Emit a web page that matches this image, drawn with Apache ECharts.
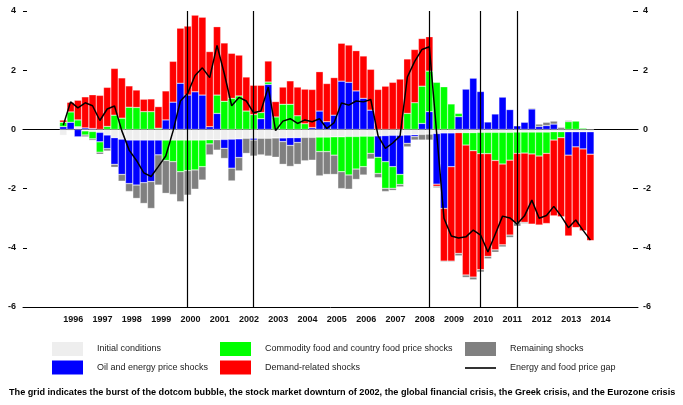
<!DOCTYPE html>
<html>
<head>
<meta charset="utf-8">
<script src="https://cdn.jsdelivr.net/npm/echarts@6.0.0/dist/echarts.min.js"></script>
<style>
  html, body { margin: 0; padding: 0; background: #fff; }
  #chart { width: 683px; height: 405px; }
</style>
</head>
<body>
<div id="chart"></div>
<script>
// quarterly decomposition, 1996Q1 .. 2014Q1
const firstYear = 1996
const lastYear = 2014

const initialConditions = [
  -0.2, -0.05, 0.09, -0.05, -0.07, -0.1, -0.19, -0.28,
  -0.33, -0.36, -0.36, -0.36, -0.36, -0.36, -0.36, -0.36,
  -0.36, -0.36, -0.36, -0.36, -0.35, -0.35, -0.34, -0.33,
  -0.32, -0.3, -0.3, -0.3, -0.3, -0.29, -0.29, -0.28,
  -0.28, -0.27, -0.27, -0.26, -0.26, -0.25, -0.25, -0.24,
  -0.24, -0.23, -0.23, -0.22, -0.21, -0.2, -0.2, -0.19,
  -0.18, -0.17, -0.16, -0.14, -0.12, -0.12, -0.11, -0.11,
  -0.11, -0.1, -0.1, -0.1, -0.1, -0.1, -0.09, -0.09,
  -0.09, -0.09, -0.09, -0.08, -0.08, -0.08, -0.08, -0.08,
  -0.08
]
const oilShocks = [
  0.09, 0.24, -0.25, 0.05, 0.03, -0.32, -0.46, -0.9,
  -1.19, -1.47, -1.52, -1.44, -1.4, -0.5, 0.32, 0.92,
  1.56, 1.16, 1.27, 1.16, 0.09, 0.54, -0.3, -0.98,
  -0.63, 0, -0.06, 0.36, 1.52, 0, -0.12, -0.26,
  -0.16, 0, 0.06, 0.62, 0.26, 0.48, 1.63, 1.59,
  1.3, 1.05, 0.65, -0.72, -0.88, -1.06, -1.32, -0.28,
  -0.06, 0.2, 0.6, -1.71, -2.55, -1.14, 0.43, 1.36,
  1.73, 1.28, 0.25, 0.52, 1.09, 0.67, 0.12, 0.24,
  0.69, 0.1, 0.13, 0.18, 0, -0.79, -0.51, -0.58,
  -0.76
]
const foodShocks = [
  0.15, 0.35, 0.23, -0.14, -0.25, -0.35, 0.1, 0.48,
  0.38, 0.75, 0.74, 0.6, 0.6, 0.04, -0.69, -0.73,
  -1.07, -1.03, -1.01, -0.9, -0.14, 0.62, 0.95, 1.05,
  1.13, 0.62, 0.5, 0.21, 0.08, 0.42, 0.85, 0.85,
  0.46, 0.19, 0, -0.49, -0.49, -0.62, -1.18, -1.3,
  -1.1, -1.03, -0.58, -0.55, -0.9, -0.73, -0.34, 0.54,
  0.9, 1.26, 1.37, 1.59, 1.44, 0.86, 0.11, -0.42,
  -0.61, -0.72, -0.72, -0.95, -1.07, -0.94, -0.72, -0.71,
  -0.74, -0.81, -0.72, -0.28, -0.2, 0.26, 0.28, 0.04,
  0
]
const demandShocks = [
  0.08, 0.33, 0.67, 1.05, 1.14, 1.15, 1.32, 1.58,
  1.36, 0.72, 0.59, 0.42, 0.43, 0.73, 0.98, 1.38,
  1.86, 2.33, 2.59, 2.63, 2.54, 2.31, 1.97, 1.52,
  1.38, 1.15, 0.99, 0.92, 0.71, 0.52, 0.58, 0.79,
  0.97, 1.17, 1.29, 1.33, 1.29, 1.27, 1.28, 1.26,
  1.36, 1.43, 1.38, 1.35, 1.46, 1.59, 1.7, 1.84,
  1.8, 1.61, 1.16, -0.07, -1.78, -3.19, -4.08, -4.39,
  -4.27, -3.92, -3.47, -3.02, -2.73, -2.53, -2.34, -2.34,
  -2.37, -2.33, -2.37, -2.56, -2.67, -2.73, -2.73, -2.77,
  -2.92
]
const remainingShocks = [
  0, 0, 0, -0.06, -0.05, -0.07, -0.08, -0.1,
  -0.23, -0.27, -0.45, -0.7, -0.91, -1.02, -1.11, -1.11,
  -1.01, -0.83, -0.65, -0.45, -0.37, -0.35, -0.34, -0.43,
  -0.45, -0.51, -0.54, -0.56, -0.6, -0.65, -0.77, -0.71,
  -0.74, -0.79, -0.77, -0.82, -0.77, -0.65, -0.57, -0.48,
  -0.35, -0.28, -0.19, -0.14, -0.11, -0.07, -0.08, -0.12,
  -0.12, -0.19, -0.2, -0.05, -0.03, -0.03, -0.08, -0.08,
  -0.09, -0.08, -0.08, -0.08, -0.07, -0.08, -0.12, -0.04,
  0.03, 0.08, 0.11, 0.1, 0.07, 0.04, 0, 0,
  0
]
const priceGap = [
  0.14, 0.93, 0.73, 0.9, 0.8, 0.3, 0.69, 0.79,
  -0.05, -0.7, -1.05, -1.47, -1.59, -1.25, -0.9, -0.05,
  0.96, 1.22, 1.82, 2.08, 1.75, 2.84, 1.88, 0.8,
  1.08, 0.96, 0.56, 0.62, 1.43, -0.04, 0.28, 0.36,
  0.2, 0.32, 0.26, 0.36, 0.03, 0.23, 0.89, 0.82,
  0.96, 0.93, 1.01, -0.22, -0.64, -0.46, -0.22, 1.77,
  2.3, 2.7, 2.79, -0.12, -3.0, -3.6, -3.67, -3.63,
  -3.4, -3.57, -4.14, -3.54, -2.93, -2.99, -3.2, -2.92,
  -2.39, -3.0, -2.91, -2.6, -2.93, -3.32, -3.06, -3.41,
  -3.74
]
// dotcom, 2002 downturn, GFC, Greek crisis, Eurozone crisis
const crisisQuarters = ['2000Q2', '2002Q3', '2008Q3', '2010Q2', '2011Q3']
const caption = 'The grid indicates the burst of the dotcom bubble, the stock market downturn of 2002, the global financial crisis, the Greek crisis, and the Eurozone crisis'

// empty quarters on each side of the data
const padBefore = 5
const padAfter = 6

let quarters = []
for (let y = firstYear - 2; y <= lastYear + 1; y++) {
  for (let q = 1; q <= 4; q++) quarters.push(y + 'Q' + q)
}
let startIdx = quarters.indexOf(firstYear + 'Q1') - padBefore
quarters = quarters.slice(startIdx, startIdx + padBefore + initialConditions.length + padAfter)

const pad = arr => Array(padBefore).fill(null).concat(arr, Array(padAfter).fill(null))
const inData = i => i >= padBefore && i < padBefore + initialConditions.length
const isYearStart = (i, v) => inData(i) && v.slice(4) === 'Q1'

const sans = '"Liberation Sans", Arial, sans-serif'
const axisFont = { fontFamily: sans, fontSize: 9, fontWeight: 'bold', color: '#111' }
const legendText = { fontFamily: sans, fontSize: 9, color: '#222', padding: [0, 0, 0, 9] }
const legendBase = {
  top: 342, orient: 'vertical', padding: 0, itemGap: 4.5, itemWidth: 31, itemHeight: 14,
  itemStyle: { borderWidth: 0 }, textStyle: legendText
}

function barSeries (name, color, data) {
  return {
    name: name,
    type: 'bar',
    stack: 'decomp',
    barCategoryGap: '0%',
    z: 3,
    data: pad(data),
    itemStyle: { color: color, borderColor: 'rgba(255,255,255,0.55)', borderWidth: 0.5 }
  }
}

const chart = echarts.init(document.getElementById('chart'))
chart.setOption({
  animation: false,
  grid: { left: 23, right: 45, top: 11, bottom: 98 },
  xAxis: [
    {
      type: 'category', data: quarters, position: 'bottom', z: 0,
      axisLine: { onZero: false, lineStyle: { color: '#000', width: 1 } },
      axisTick: { alignWithLabel: true, interval: i => inData(i), length: 3, lineStyle: { color: '#000' } },
      axisLabel: { show: false }
    },
    {
      type: 'category', data: quarters, position: 'bottom', z: 0,
      axisLine: { show: false, onZero: false },
      axisTick: { alignWithLabel: true, interval: isYearStart, length: 6, lineStyle: { color: '#000' } },
      axisLabel: Object.assign({ interval: isYearStart, formatter: v => v.slice(0, 4), align: 'left', margin: 8 }, axisFont)
    },
    {
      // zero line, drawn under the bars
      type: 'category', data: quarters, position: 'bottom', z: 0,
      axisLine: { onZero: true, lineStyle: { color: '#000', width: 1.2 } },
      axisTick: { show: false },
      axisLabel: { show: false }
    }
  ],
  yAxis: [
    {
      type: 'value', min: -6, max: 4, interval: 2, position: 'left',
      axisLine: { show: false },
      axisTick: { show: true, inside: true, length: 4, lineStyle: { color: '#000' } },
      splitLine: { show: false },
      axisLabel: Object.assign({ margin: 7 }, axisFont)
    },
    {
      type: 'value', min: -6, max: 4, interval: 2, position: 'right',
      axisLine: { show: false },
      axisTick: { show: true, inside: true, length: 5, lineStyle: { color: '#000' } },
      splitLine: { show: false },
      axisLabel: Object.assign({ margin: 5 }, axisFont)
    }
  ],
  legend: [
    Object.assign({}, legendBase, {
      left: 52,
      data: [{ name: 'Initial conditions', icon: 'rect' }, { name: 'Oil and energy price shocks', icon: 'rect' }]
    }),
    Object.assign({}, legendBase, {
      left: 220,
      data: [{ name: 'Commodity food and country food price shocks', icon: 'rect' }, { name: 'Demand-related shocks', icon: 'rect' }]
    }),
    Object.assign({}, legendBase, {
      left: 465,
      data: [{ name: 'Remaining shocks', icon: 'rect' }]
    }),
    Object.assign({}, legendBase, {
      left: 465, top: 363.5,
      data: [{ name: 'Energy and food price gap', icon: 'path://M0,0 H31 V2 H0 Z' }]
    })
  ],
  graphic: [
    {
      type: 'text', left: 9, top: 388,
      style: { text: caption, fill: '#000', font: 'bold 9.15px ' + sans }
    }
  ],
  series: [
    barSeries('Initial conditions', '#eeeeee', initialConditions),
    barSeries('Oil and energy price shocks', '#0000ff', oilShocks),
    barSeries('Commodity food and country food price shocks', '#00ff00', foodShocks),
    barSeries('Demand-related shocks', '#ff0000', demandShocks),
    barSeries('Remaining shocks', '#808080', remainingShocks),
    {
      name: 'Energy and food price gap',
      type: 'line',
      data: pad(priceGap),
      symbol: 'none',
      z: 5,
      lineStyle: { color: '#000', width: 1.5 },
      itemStyle: { color: '#333' },
      markLine: {
        silent: true,
        symbol: ['none', 'none'],
        label: { show: false },
        lineStyle: { color: '#000', width: 1.2, type: 'solid' },
        data: crisisQuarters.map(q => ({ xAxis: q }))
      }
    }
  ]
})
</script>
</body>
</html>
